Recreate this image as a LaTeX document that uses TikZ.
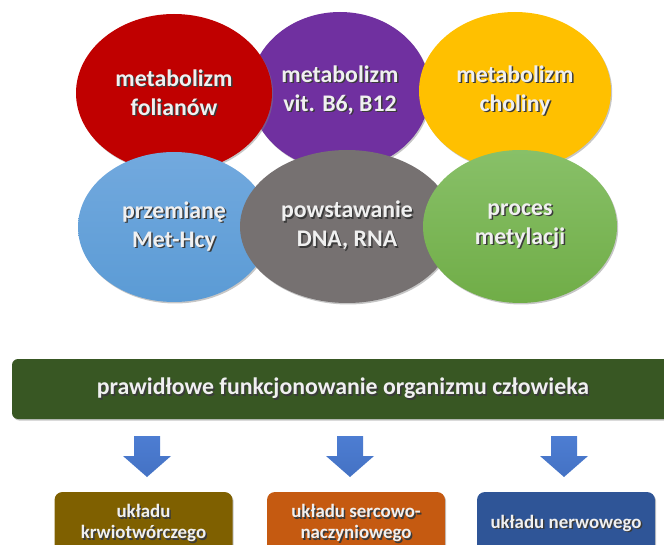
\documentclass[tikz,border=0pt]{standalone}
\usepackage{fontspec}
\setmainfont{Carlito}
\usepackage{tikz}
\usetikzlibrary{shapes.geometric,shadows,positioning}

\definecolor{folred}{HTML}{C00000}
\definecolor{vitpurple}{HTML}{7030A0}
\definecolor{cholyellow}{HTML}{FFC000}
\definecolor{metbluetop}{HTML}{72A9DE}
\definecolor{metblue}{HTML}{5B9BD5}
\definecolor{dnagray}{HTML}{767171}
\definecolor{metylgreentop}{HTML}{88C068}
\definecolor{metylgreen}{HTML}{70AD47}
\definecolor{bannergreen}{HTML}{385723}
\definecolor{arrowtop}{HTML}{4D7DD2}
\definecolor{arrowblue}{HTML}{4472C4}
\definecolor{krewbrown}{HTML}{7F6000}
\definecolor{sercorange}{HTML}{C55A11}
\definecolor{nervblue}{HTML}{2F5597}
\definecolor{txtc}{HTML}{F0F0F0}
\definecolor{txtshadow}{HTML}{3A3A3A}

% text with a small drop shadow
\newcommand{\shtext}[1]{\makebox[0pt][l]{\hspace{1.5pt}\raisebox{-1.5pt}{\textcolor{txtshadow}{#1}}}#1}

\tikzset{
  blob/.style={ellipse, inner sep=0pt, align=center, text=txtc,
    font=\fontsize{23.8}{29}\selectfont\bfseries,
    drop shadow={shadow xshift=1.2pt,shadow yshift=-1.5pt,opacity=.45}},
  banner/.style={rectangle, rounded corners=6pt, fill=bannergreen, text=txtc,
    minimum width=662, minimum height=60, inner sep=0pt,
    font=\fontsize{23.8}{29}\selectfont\bfseries,
    drop shadow={shadow xshift=1.2pt,shadow yshift=-1.5pt,opacity=.45}},
  sysbox/.style={rectangle, rounded corners=8pt, text=txtc, align=center,
    minimum width=178, minimum height=64, inner sep=0pt,
    font=\fontsize{18.9}{21}\selectfont\bfseries,
    drop shadow={shadow xshift=1.2pt,shadow yshift=-1.5pt,opacity=.45}},
  dnarrow/.pic={\shade[top color=arrowtop, bottom color=arrowblue]
    (-13,0) -- (13,0) -- (13,20) -- (24,20) -- (0,41) -- (-24,20) -- (-13,20) -- cycle;}
}

\begin{document}
\begin{tikzpicture}[x=1pt,y=-1pt]
\useasboundingbox (0,0) rectangle (664,545);
\clip (0,0) rectangle (664,545);

% top row
\node[blob, fill=vitpurple, minimum width=180, minimum height=158] (vit) at (340,91)
  {\shtext{metabolizm}\\\shtext{vit. B6, B12}};
\node[blob, fill=folred, minimum width=196, minimum height=158] (fol) at (174,93)
  {\shtext{metabolizm}\\\shtext{folianów}};
\node[blob, fill=cholyellow, minimum width=192, minimum height=158] (chol) at (515,91)
  {\shtext{metabolizm}\\\shtext{choliny}};

% bottom row
\node[blob, top color=metbluetop, bottom color=metblue, minimum width=192, minimum height=150] (hcy) at (174,227)
  {\shtext{przemianę}\\\shtext{Met-Hcy}};
\node[blob, fill=dnagray, minimum width=214, minimum height=153] (dna) at (347,226.5)
  {\shtext{powstawanie}\\\shtext{DNA, RNA}};
\node[blob, top color=metylgreentop, bottom color=metylgreen, minimum width=194, minimum height=153] (metyl) at (520,226.5)
  {\shtext{proces}\\\shtext{metylacji}};

% banner
\node[banner] (organizm) at (343,389) {\shtext{prawidłowe funkcjonowanie organizmu człowieka}};

% arrows
\pic at (147,436) {dnarrow};
\pic at (350,436) {dnarrow};
\pic at (564,436) {dnarrow};

% systems
\node[sysbox, fill=krewbrown] (krew) at (143.5,524) {\shtext{układu}\\\shtext{krwiotwórczego}};
\node[sysbox, fill=sercorange] (serce) at (356,524) {\shtext{układu sercowo-}\\\shtext{naczyniowego}};
\node[sysbox, fill=nervblue] (nerw) at (566,524) {\shtext{układu nerwowego}};
\end{tikzpicture}
\end{document}
